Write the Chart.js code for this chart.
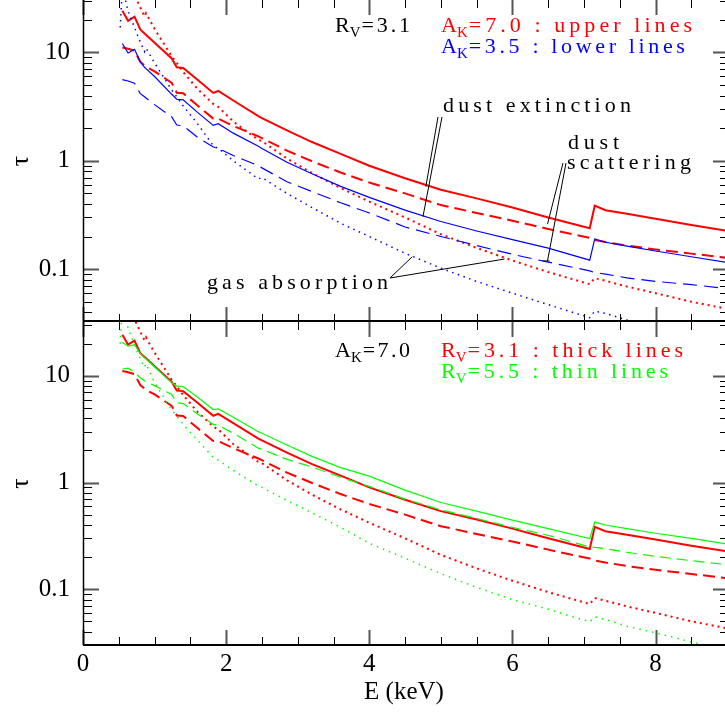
<!DOCTYPE html>
<html>
<head>
<meta charset="utf-8">
<script src="https://cdn.jsdelivr.net/npm/chart.js"></script>
<style>
  html, body { margin: 0; padding: 0; background: #fff; }
  canvas { display: block; }
</style>
</head>
<body>
<canvas id="topChart" width="725" height="322"></canvas>
<canvas id="bottomChart" width="725" height="393"></canvas>
<script>
// photon energy (keV)
const energy = [0.52, 0.55, 0.63, 0.72, 0.80, 0.86, 0.88, 1.0, 1.24, 1.31, 1.40, 1.6, 1.82, 1.89, 2.1, 2.45, 2.5,
  2.85, 3.2, 3.6, 4.0, 4.5, 5.0, 5.5, 6.0, 6.5, 7.08, 7.15, 7.3, 7.6, 8.0, 8.5, 9.0];

// R_V=3.1, A_K=7.0
const extRv31Ak70 = [null, 24.3, 19.6, 21.4, 16.3, 15.0, 14.6, 12.3, 8.8, 7.3, 7.2, 5.6, 4.23, 4.41, 3.6, 2.58, 2.48,
  1.91, 1.49, 1.16, 0.90, 0.69, 0.54, 0.45, 0.37, 0.30, 0.238, 0.385, 0.35, 0.324, 0.292, 0.256, 0.226];
const scaRv31Ak70 = [null, 11.1, 10.8, 10.4, 8.2, 7.6, 7.4, 6.7, 5.24, 4.25, 4.2, 3.24, 2.45, 2.45, 2.1, 1.68, 1.62,
  1.24, 0.99, 0.78, 0.63, 0.50, 0.39, 0.33, 0.28, 0.235, 0.194, 0.186, 0.178, 0.165, 0.152, 0.139, 0.127];
const gasRv31Ak70 = [34, 80, 50, 34, 26, 21.5, 23, 16.5, 9.2, 8.0, 6.6, 4.6, 3.35, 3.15, 2.3, 1.56, 1.52,
  1.05, 0.77, 0.56, 0.42, 0.30, 0.21, 0.157, 0.12, 0.094, 0.0726, 0.0826, 0.078, 0.069, 0.06, 0.05, 0.043];

// R_V=3.1, A_K=3.5
const extRv31Ak35 = [null, 12.1, 9.9, 10.7, 8.2, 7.3, 7.1, 6.0, 4.11, 3.7, 3.65, 2.8, 2.12, 2.2, 1.8, 1.36, 1.3,
  0.97, 0.76, 0.58, 0.46, 0.35, 0.275, 0.225, 0.187, 0.156, 0.121, 0.19, 0.177, 0.163, 0.147, 0.13, 0.115];
const scaRv31Ak35 = [null, 5.62, 5.45, 5.2, 4.17, 3.9, 3.8, 3.3, 2.54, 2.14, 2.1, 1.65, 1.34, 1.3, 1.12, 0.9, 0.86,
  0.64, 0.52, 0.41, 0.33, 0.245, 0.2, 0.165, 0.137, 0.116, 0.0964, 0.093, 0.09, 0.083, 0.077, 0.072, 0.066];
const gasRv31Ak35 = [17, 40, 24, 17, 12.5, 10.2, 11.0, 8.0, 4.5, 3.9, 3.2, 2.2, 1.38, 1.30, 1.0, 0.68, 0.70,
  0.50, 0.37, 0.265, 0.2, 0.14, 0.102, 0.077, 0.06, 0.047, 0.0356, 0.041, 0.039, 0.034, 0.029, 0.024, 0.021];

// R_V=5.5, A_K=7.0
const extRv55Ak70 = [null, 20.7, 19.0, 19.6, 16.2, 14.8, 14.4, 12.2, 8.6, 8.0, 7.95, 6.3, 4.84, 4.9, 4.1, 3.0, 2.9,
  2.25, 1.76, 1.38, 1.15, 0.85, 0.65, 0.54, 0.445, 0.37, 0.298, 0.426, 0.40, 0.37, 0.335, 0.30, 0.265];
const scaRv55Ak70 = [null, 11.6, 11.8, 10.8, 9.6, 9.0, 8.8, 8.1, 6.68, 5.6, 5.5, 4.4, 3.51, 3.45, 2.9, 2.1, 2.05,
  1.65, 1.40, 1.12, 0.92, 0.70, 0.555, 0.46, 0.38, 0.32, 0.249, 0.247, 0.24, 0.222, 0.203, 0.185, 0.17];
const gasRv55Ak70 = [20, 45, 28, 19.5, 14.5, 12, 13, 8.6, 4.8, 4.2, 3.5, 2.5, 1.72, 1.62, 1.3, 0.93, 0.9,
  0.68, 0.52, 0.38, 0.27, 0.195, 0.14, 0.104, 0.08, 0.065, 0.0494, 0.055, 0.052, 0.045, 0.039, 0.032, 0.027];

// axis ticks
const xLabelTicks = [0, 2, 4, 6, 8];
const xMinorTicks = [0.5, 1, 1.5, 2.5, 3, 3.5, 4.5, 5, 5.5, 6.5, 7, 7.5, 8.5];
const yLabelTicks = [0.1, 1, 10];
const yMinorTicks = [0.04, 0.05, 0.06, 0.07, 0.08, 0.09, 0.2, 0.3, 0.4, 0.5, 0.6, 0.7, 0.8, 0.9,
  2, 3, 4, 5, 6, 7, 8, 9, 20, 30];

const RED = '#ff0000', BLUE = '#0000ff', GREEN = '#00ff00';
const FONT = 'Liberation Serif';
const noteFont = '22px "' + FONT + '"';
const subFont = '15px "' + FONT + '"';

function series(label, values, color, width, dash) {
  return {
    label: label,
    data: energy.map((e, i) => ({ x: e, y: values[i] })),
    borderColor: color,
    borderWidth: width,
    borderDash: dash,
    pointRadius: 0,
    tension: 0,
    fill: false,
    clip: 0
  };
}

function line(ctx, x1, y1, x2, y2) {
  ctx.beginPath();
  ctx.moveTo(x1, y1);
  ctx.lineTo(x2, y2);
  ctx.stroke();
}

// frame with inward ticks on all four sides
const framePlugin = {
  id: 'frame',
  afterDatasetsDraw(chart) {
    const ctx = chart.ctx, a = chart.chartArea;
    const xs = chart.scales.x, ys = chart.scales.y;
    ctx.save();
    xLabelTicks.concat(xMinorTicks).forEach(v => {
      const major = xLabelTicks.includes(v);
      const px = Math.round(xs.getPixelForValue(v)) + 0.5;
      const len = major ? 15 : 8;
      ctx.lineWidth = major ? 2 : 1;
      ctx.strokeStyle = major ? '#555' : '#000';
      line(ctx, px, a.top, px, a.top + len);
      line(ctx, px, a.bottom, px, a.bottom - len);
    });
    yLabelTicks.concat(yMinorTicks).forEach(v => {
      if (v < ys.min || v > ys.max) return;
      const major = yLabelTicks.includes(v);
      const py = Math.round(ys.getPixelForValue(v)) + 0.5;
      ctx.lineWidth = major ? 2 : 1;
      ctx.strokeStyle = major ? '#555' : '#000';
      line(ctx, a.left, py, a.left + (major ? 16 : 9), py);
      line(ctx, a.right + 2, py, a.right + 2 - (major ? 14 : 7), py);
    });
    ctx.strokeStyle = '#000';
    ctx.lineWidth = 1.5;
    line(ctx, a.left + 0.5, a.top, a.left + 0.5, a.bottom);
    ctx.lineWidth = 2;
    if (chart.canvas.id === 'topChart') {
      line(ctx, a.left, a.bottom - 1, a.right, a.bottom - 1);
    } else {
      line(ctx, a.left, a.bottom, a.right, a.bottom);
    }
    ctx.restore();
  }
};

function drawNote(ctx, n) {
  ctx.fillStyle = n.color || '#000';
  ctx.textAlign = 'left';
  ctx.textBaseline = 'alphabetic';
  ctx.letterSpacing = '0px';
  let x0 = n.x;
  if (n.main) {
    ctx.font = noteFont;
    ctx.fillText(n.main, x0, n.y);
    x0 += ctx.measureText(n.main).width;
    ctx.font = subFont;
    ctx.fillText(n.sub, x0, n.y + 5);
    x0 += ctx.measureText(n.sub).width + 1;
  }
  ctx.font = noteFont;
  const w = ctx.measureText(n.text).width;
  const ls = (n.end - x0 - w) / Math.max(1, n.text.length - 1);
  ctx.letterSpacing = ls.toFixed(2) + 'px';
  ctx.fillText(n.text, x0, n.y);
  ctx.letterSpacing = '0px';
}

function notesPlugin(labels, pointers) {
  return {
    id: 'notes',
    afterDraw(chart) {
      const ctx = chart.ctx, xs = chart.scales.x, ys = chart.scales.y;
      ctx.save();
      ctx.strokeStyle = '#000';
      ctx.lineWidth = 1;
      pointers.forEach(p => {
        const tx = xs.getPixelForValue(p.to[0]), ty = ys.getPixelForValue(p.to[1]);
        line(ctx, p.from[0], p.from[1], tx, ty);
        if (p.cap) line(ctx, tx - p.cap, ty, tx + 2, ty);
      });
      labels.forEach(n => drawNote(ctx, n));
      ctx.restore();
    }
  };
}

function yAxis(min, max) {
  return {
    type: 'logarithmic',
    min: min,
    max: max,
    afterBuildTicks: s => { s.ticks = yLabelTicks.map(v => ({ value: v })); },
    afterFit: s => { s.width = 83; s.paddingTop = 0; s.paddingBottom = 0; },
    grid: { display: false, drawTicks: false },
    border: { display: false },
    ticks: { color: '#000', padding: 13, font: { family: FONT, size: 25 }, callback: v => String(v) },
    title: { display: true, text: 'τ', color: '#000', font: { family: FONT, size: 26 }, padding: { top: 6, bottom: 0 } }
  };
}

const topLabels = [
  { main: 'R', sub: 'V', text: '=3.1', x: 335, y: 32, end: 410, color: '#000' },
  { main: 'A', sub: 'K', text: '=7.0 : upper lines', x: 441, y: 32, end: 692, color: RED },
  { main: 'A', sub: 'K', text: '=3.5 : lower lines', x: 441, y: 53, end: 685, color: BLUE },
  { text: 'dust extinction', x: 443, y: 112, end: 631 },
  { text: 'dust', x: 568, y: 149, end: 619 },
  { text: 'scattering', x: 567, y: 169, end: 691 },
  { text: 'gas absorption', x: 207, y: 289, end: 388 }
];
const topPointers = [
  { from: [438, 117], to: [4.79, 0.578] },
  { from: [442, 117], to: [4.75, 0.305] },
  { from: [563, 163], to: [6.49, 0.26] },
  { from: [566, 163], to: [6.49, 0.119], cap: 5 },
  { from: [390, 278], to: [4.6, 0.13] },
  { from: [390, 278], to: [5.89, 0.124] }
];
const bottomLabels = [
  { main: 'A', sub: 'K', text: '=7.0', x: 335, y: 35, end: 410, color: '#000' },
  { main: 'R', sub: 'V', text: '=3.1 : thick lines', x: 441, y: 35, end: 683, color: RED },
  { main: 'R', sub: 'V', text: '=5.5 : thin lines', x: 441, y: 56, end: 668, color: GREEN }
];

new Chart(document.getElementById('topChart'), {
  type: 'line',
  data: {
    datasets: [
      series('A_K=3.5 dust extinction', extRv31Ak35, BLUE, 1.2, []),
      series('A_K=3.5 dust scattering', scaRv31Ak35, BLUE, 1.2, [14, 7]),
      series('A_K=3.5 gas absorption', gasRv31Ak35, BLUE, 1.5, [1.5, 4.5]),
      series('A_K=7.0 dust extinction', extRv31Ak70, RED, 2, []),
      series('A_K=7.0 dust scattering', scaRv31Ak70, RED, 2, [12, 6]),
      series('A_K=7.0 gas absorption', gasRv31Ak70, RED, 2, [2, 4])
    ]
  },
  options: {
    responsive: false,
    animation: false,
    devicePixelRatio: 1,
    layout: { padding: 0 },
    plugins: { legend: { display: false }, tooltip: { enabled: false } },
    scales: {
      x: { type: 'linear', min: 0, max: 8.97, display: false },
      y: yAxis(0.0325, 30.5)
    }
  },
  plugins: [framePlugin, notesPlugin(topLabels, topPointers)]
});

new Chart(document.getElementById('bottomChart'), {
  type: 'line',
  data: {
    datasets: [
      series('R_V=5.5 dust extinction', extRv55Ak70, GREEN, 1.2, []),
      series('R_V=5.5 dust scattering', scaRv55Ak70, GREEN, 1.2, [11, 6]),
      series('R_V=5.5 gas absorption', gasRv55Ak70, GREEN, 1.5, [1.5, 5]),
      series('R_V=3.1 dust extinction', extRv31Ak70, RED, 2, []),
      series('R_V=3.1 dust scattering', scaRv31Ak70, RED, 2, [12, 6]),
      series('R_V=3.1 gas absorption', gasRv31Ak70, RED, 2, [2, 4])
    ]
  },
  options: {
    responsive: false,
    animation: false,
    devicePixelRatio: 1,
    layout: { padding: 0 },
    plugins: { legend: { display: false }, tooltip: { enabled: false } },
    scales: {
      x: {
        type: 'linear',
        min: 0,
        max: 8.97,
        afterBuildTicks: s => { s.ticks = xLabelTicks.map(v => ({ value: v })); },
        afterFit: s => { s.height = 70; s.paddingLeft = 0; s.paddingRight = 0; },
        grid: { display: false, drawTicks: false },
        border: { display: false },
        ticks: { color: '#000', padding: 4, autoSkip: false, maxRotation: 0, font: { family: FONT, size: 25 } },
        title: { display: true, text: 'E (keV)', color: '#000', font: { family: FONT, size: 25 }, padding: { top: 0, bottom: 8 } }
      },
      y: yAxis(0.030, 32)
    }
  },
  plugins: [framePlugin, notesPlugin(bottomLabels, [])]
});
</script>
</body>
</html>
